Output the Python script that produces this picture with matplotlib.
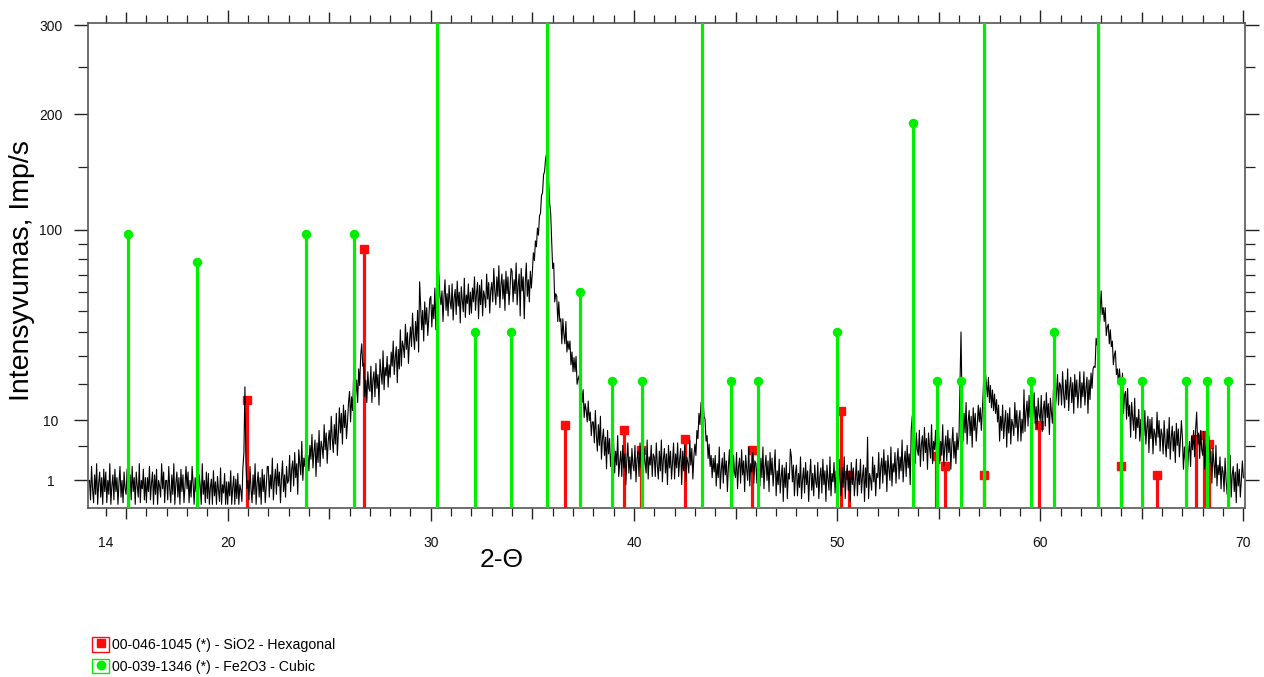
import numpy as np
import matplotlib
matplotlib.use('Agg')
import matplotlib.pyplot as plt
import matplotlib.ticker as ticker
from matplotlib.patches import Rectangle
from matplotlib.lines import Line2D

plt.rcParams['font.family'] = ['Liberation Sans', 'DejaVu Sans']

# measured scan, 0.05 deg steps starting at 13.2 deg (Imp/s)
scan_start = 13.2
scan_step = 0.05
counts = [
    1.0, 0.09, 2.25, 0.49, 0.04, 1.44, 0.25, 2.56, 0.02, 0.81, 1.69, 0.16, 1.21, 0.02, 1.96, 0.36,  # 13.2
    1.69, 0.04, 1.0, 0.25, 2.56, 0.02, 0.64, 1.44, 0.09, 1.96, 0.36, 1.21, 0.02, 0.81, 2.25, 0.16, 1.0, 0.04, 1.69, 0.49,  # 14
    0.25, 1.96, 0.02, 0.81, 1.44, 0.09, 2.25, 0.36, 1.21, 0.02, 1.69, 0.64, 0.16, 2.56, 0.04, 1.0, 0.49, 1.96, 0.09, 1.21,  # 15
    0.04, 1.21, 0.36, 2.25, 0.09, 0.81, 1.69, 0.02, 1.44, 0.25, 1.96, 0.02, 1.0, 0.64, 0.16, 2.56, 0.49, 1.69, 0.04, 1.0,  # 16
    1.0, 0.09, 2.25, 0.49, 0.04, 1.44, 0.25, 2.56, 0.02, 0.81, 1.69, 0.16, 1.21, 0.02, 1.96, 0.36, 1.44, 0.04, 0.64, 2.25,  # 17
    0.49, 1.69, 0.04, 1.0, 0.16, 2.25, 0.81, 0.02, 1.21, 0.36, 1.96, 0.09, 1.44, 0.64, 0.02, 2.56, 0.25, 1.0, 0.04, 1.69,  # 18
    0.12, 1.56, 0.02, 0.56, 1.1, 0.02, 1.82, 0.2, 0.9, 0.02, 1.32, 0.42, 0.06, 2.1, 0.02, 0.72, 0.3, 1.56, 0.02, 0.9,  # 19
    0.02, 0.9, 0.2, 1.82, 0.02, 0.56, 1.32, 0.02, 1.1, 0.12, 1.56, 0.02, 0.72, 0.42, 0.06, 2.1, 4.0, 19.0, 2.6, 0.5,  # 20
    1.0, 0.09, 2.25, 0.49, 0.04, 1.44, 0.25, 2.56, 0.02, 0.81, 1.69, 0.16, 1.21, 0.02, 1.96, 0.36, 1.44, 0.04, 0.64, 2.25,  # 21
    2.25, 0.16, 1.44, 0.49, 3.24, 0.09, 1.0, 1.96, 0.25, 2.56, 0.64, 1.69, 0.04, 1.21, 2.89, 0.36, 1.44, 0.16, 2.25, 0.81,  # 22
    1.0, 3.61, 0.36, 1.96, 2.89, 0.64, 4.0, 1.21, 2.56, 0.25, 4.41, 2.56, 1.44, 5.76, 1.0, 3.24, 2.25, 4.84, 1.21, 3.61,  # 23
    1.8, 5.1, 3.1, 7.0, 2.1, 4.2, 6.0, 1.3, 5.5, 2.7, 7.8, 2.25, 5.8, 4.8, 3.2, 9.0, 4.4, 7.3, 2.6, 5.8,  # 24
    7.8, 4.4, 10.9, 6.25, 4.0, 9.0, 5.3, 11.6, 3.6, 7.3, 13.0, 7.3, 11.6, 5.3, 13.7, 8.4, 12.3, 6.25, 9.6, 14.4,  # 25
    17.6, 9.6, 16.0, 12.3, 22.1, 10.9, 16.8, 21.2, 14.4, 25.0, 19.4, 30.3, 34.8, 26.0, 27.0, 16.0, 21.2, 14.4, 24.0, 18.5,  # 26
    17.6, 26.0, 14.4, 21.2, 24.0, 16.0, 27.0, 18.5, 23.0, 13.7, 28.6, 23.5, 19.8, 31.9, 18.1, 25.5, 22.6, 29.7, 18.9, 26.5,  # 27
    22.1, 31.4, 26.0, 36.0, 23.0, 29.2, 33.6, 20.3, 32.5, 25.0, 41.0, 26.0, 36.0, 33.6, 29.2, 43.6, 32.5, 39.7, 27.0, 36.0,  # 28
    42.3, 33.6, 49.0, 38.4, 32.5, 44.9, 36.0, 50.4, 31.4, 66.0, 53.3, 41.0, 50.4, 36.0, 54.8, 43.6, 51.8, 38.4, 46.2, 56.3,  # 29
    57.8, 42.3, 53.3, 46.2, 62.4, 41.0, 64.0, 80.0, 70.0, 58.0, 53.3, 60.8, 44.9, 57.8, 67.2, 50.4, 59.3, 47.6, 64.0, 54.8,  # 30
    51.1, 64.8, 45.6, 57.0, 61.6, 48.3, 66.4, 52.6, 60.1, 44.2, 63.2, 55.5, 49.7, 68.1, 46.9, 58.5, 54.0, 64.8, 48.3, 60.1,  # 31
    49.0, 62.4, 54.8, 68.9, 50.4, 59.3, 65.6, 46.2, 64.0, 53.3, 67.2, 47.6, 60.8, 57.8, 51.8, 70.6, 56.3, 65.6, 49.0, 60.8,  # 32
    65.6, 54.8, 74.0, 60.8, 53.3, 68.9, 57.8, 75.7, 51.8, 64.0, 70.6, 56.3, 67.2, 50.4, 72.3, 59.3, 68.9, 53.3, 62.4, 74.0,  # 33
    72.3, 54.8, 67.2, 59.3, 77.4, 53.3, 64.0, 70.6, 47.6, 74.0, 60.8, 68.9, 46.2, 65.6, 77.4, 57.8, 67.2, 54.8, 72.3, 62.4,  # 34
    72.0, 84.0, 79.0, 92.0, 88.0, 101.0, 96.0, 110.0, 112.0, 126.0, 128.0, 143.0, 146.0, 157.0, 162.0, 149.0, 138.0, 120.0, 112.0, 92.0,  # 35
    74.0, 77.4, 54.8, 59.3, 57.8, 44.9, 54.8, 44.9, 46.2, 34.8, 46.2, 39.0, 34.8, 44.9, 31.4, 36.0, 32.5, 36.0, 26.5, 31.4,  # 36
    24.0, 29.2, 24.0, 29.7, 19.8, 21.6, 22.6, 13.7, 19.4, 14.4, 18.1, 10.6, 14.1, 12.3, 9.6, 14.8, 9.9, 11.9, 6.8, 9.6,  # 37
    9.6, 5.5, 12.3, 6.8, 4.2, 9.0, 5.1, 10.9, 3.1, 6.25, 8.1, 3.6, 6.5, 2.0, 7.8, 3.8, 6.25, 2.25, 4.2, 7.6,  # 38
    5.5, 1.6, 4.2, 2.4, 6.8, 1.3, 2.7, 4.2, 1.3, 5.1, 2.1, 3.8, 0.72, 3.1, 5.5, 1.6, 3.4, 1.1, 4.6, 2.4,  # 39
    1.8, 5.1, 0.9, 3.1, 4.2, 1.3, 5.5, 2.1, 3.8, 0.72, 4.6, 2.7, 1.6, 6.0, 1.1, 3.4, 2.4, 5.1, 1.3, 3.8,  # 40
    3.4, 1.3, 5.5, 2.4, 1.1, 4.2, 1.8, 6.0, 0.9, 3.1, 4.6, 1.6, 3.8, 0.72, 5.1, 2.1, 4.2, 1.1, 2.7, 5.5,  # 41
    1.1, 3.8, 2.1, 5.5, 1.3, 3.1, 4.6, 0.72, 4.2, 1.8, 5.1, 0.9, 3.4, 2.7, 1.6, 6.0, 2.4, 4.6, 1.1, 3.4,  # 42
    5.3, 3.6, 7.8, 6.25, 11.6, 9.0, 14.4, 12.3, 16.0, 10.9, 10.2, 5.8, 6.8, 3.2, 5.3, 2.25, 3.6, 1.2, 3.2, 1.7,  # 43
    3.6, 0.64, 2.56, 1.21, 4.84, 0.49, 1.96, 3.24, 0.81, 4.0, 1.44, 2.89, 0.36, 2.25, 4.41, 1.0, 2.56, 0.64, 3.61, 1.69,  # 44
    1.21, 4.0, 0.49, 2.25, 3.24, 0.81, 4.41, 1.44, 2.89, 0.36, 3.61, 1.96, 1.0, 4.84, 0.64, 2.56, 1.69, 4.0, 0.81, 2.89,  # 45
    2.56, 0.81, 4.41, 1.69, 0.64, 3.24, 1.21, 4.84, 0.49, 2.25, 3.61, 1.0, 2.89, 0.36, 4.0, 1.44, 3.24, 0.64, 1.96, 4.41,  # 46
    0.2, 1.8, 0.72, 3.1, 0.3, 1.3, 2.4, 0.06, 2.1, 0.56, 2.7, 0.12, 1.56, 1.1, 4.5, 3.4, 0.9, 2.4, 0.2, 1.56,  # 47
    2.4, 0.2, 1.56, 0.56, 3.4, 0.12, 1.1, 2.1, 0.3, 2.7, 0.72, 1.8, 0.06, 1.3, 3.1, 0.42, 1.56, 0.2, 2.4, 0.9,  # 48
    0.56, 2.7, 0.12, 1.3, 2.1, 0.3, 3.1, 0.72, 1.8, 0.06, 2.4, 1.1, 0.42, 3.4, 0.2, 1.56, 0.9, 2.7, 0.3, 1.8,  # 49
    1.56, 0.3, 3.1, 0.9, 0.2, 2.1, 0.56, 3.4, 0.12, 1.3, 2.4, 0.42, 1.8, 0.06, 2.7, 0.72, 2.1, 0.2, 1.1, 3.1,  # 50
    0.2, 1.8, 0.72, 3.1, 0.3, 1.3, 2.4, 0.06, 2.1, 0.56, 6.5, 0.12, 1.56, 1.1, 0.42, 3.4, 0.9, 2.4, 0.2, 1.56,  # 51
    1.21, 4.0, 0.49, 2.25, 3.24, 0.81, 4.41, 1.44, 2.89, 0.36, 3.61, 1.96, 1.0, 4.84, 0.64, 2.56, 1.69, 4.0, 0.81, 2.89,  # 52
    4.6, 1.1, 3.4, 1.8, 6.0, 0.9, 2.7, 4.2, 1.3, 5.1, 2.1, 3.8, 0.72, 8.0, 11.0, 3.2, 5.8, 2.6, 7.3, 4.4,  # 53
    3.61, 7.84, 2.25, 5.29, 6.76, 2.89, 8.41, 4.0, 6.25, 1.96, 7.29, 4.84, 3.24, 9.0, 2.56, 5.76, 4.41, 7.84, 2.89, 6.25,  # 54
    7.3, 2.56, 5.76, 3.61, 9.0, 2.25, 4.84, 6.76, 2.89, 7.84, 4.0, 6.25, 1.96, 5.29, 8.41, 3.24, 5.76, 2.56, 7.29, 4.41,  # 55
    6.5, 20.0, 40.0, 14.0, 5.8, 11.6, 7.3, 14.4, 5.3, 9.6, 12.3, 6.8, 10.9, 4.8, 13.0, 7.8, 11.6, 5.8, 9.0, 13.7,  # 56
    9.6, 13.0, 7.8, 12.3, 18.5, 30.0, 24.0, 20.0, 16.0, 22.0, 14.4, 19.4, 13.0, 18.0, 12.3, 16.8, 11.6, 15.2, 9.6, 13.7,  # 57
    5.8, 10.9, 7.8, 13.7, 6.25, 9.6, 12.3, 4.8, 11.6, 7.3, 13.0, 5.3, 10.2, 9.0, 6.8, 14.4, 8.4, 12.3, 5.8, 10.2,  # 58
    12.3, 5.8, 10.2, 7.3, 18.1, 7.6, 11.9, 14.8, 8.7, 16.4, 10.6, 14.1, 7.0, 12.6, 17.2, 9.3, 13.3, 8.1, 15.6, 11.2,  # 59
    9.9, 16.4, 7.6, 12.6, 14.8, 8.7, 17.2, 10.6, 14.1, 7.0, 15.6, 11.9, 9.3, 18.1, 8.1, 13.3, 16.8, 23.0, 13.7, 20.3,  # 60
    19.4, 13.7, 24.0, 16.8, 13.0, 21.2, 15.2, 25.0, 12.3, 18.5, 22.1, 14.4, 20.3, 11.6, 23.0, 16.0, 21.2, 13.0, 17.6, 24.0,  # 61
    13.0, 20.3, 16.0, 24.0, 13.7, 18.5, 22.1, 11.6, 21.2, 15.2, 23.5, 18.5, 25.0, 26.0, 25.5, 37.2, 34.2, 42.3, 39.0, 50.4,  # 62
    60.8, 48.3, 51.8, 44.9, 51.8, 38.4, 42.3, 43.6, 34.8, 41.0, 33.6, 36.0, 26.5, 30.3, 31.9, 23.0, 25.0, 19.8, 25.0, 20.3,  # 63
    16.8, 23.5, 11.6, 16.4, 17.6, 10.2, 18.5, 10.9, 13.7, 6.5, 14.4, 10.6, 7.8, 15.6, 6.25, 10.6, 8.4, 12.6, 5.8, 10.2,  # 64
    4.8, 9.6, 6.8, 12.3, 5.3, 8.4, 10.9, 4.0, 10.2, 6.25, 10.6, 3.8, 8.1, 7.0, 5.1, 11.9, 6.5, 9.9, 4.2, 8.1,  # 65
    7.0, 3.8, 9.9, 5.5, 3.4, 8.1, 4.6, 10.6, 3.1, 6.5, 8.7, 4.2, 7.6, 2.7, 9.3, 5.1, 8.1, 3.4, 6.0, 9.9,  # 66
    6.25, 1.96, 4.84, 2.89, 7.84, 1.69, 4.0, 5.76, 2.25, 6.76, 4.4, 7.8, 3.4, 8.1, 11.9, 5.3, 7.3, 3.2, 7.8, 4.4,  # 67
    3.6, 7.6, 1.96, 4.6, 5.76, 2.1, 6.76, 2.7, 4.2, 0.81, 4.6, 2.56, 1.21, 5.1, 0.64, 2.4, 1.44, 3.4, 0.49, 2.25,  # 68
    1.69, 0.36, 3.24, 1.0, 0.25, 2.25, 0.64, 3.61, 0.16, 1.44, 2.25, 0.36, 1.69, 0.04, 2.56, 0.64, 1.96, 0.16, 1.0, 2.89,  # 69
    1.2,  # 70
]

# reference patterns (stick positions in deg 2-theta, heights in Imp/s)
sio2_label = '00-046-1045 (*) - SiO2 - Hexagonal'
sio2_pos = [20.97, 26.71, 36.63, 39.50, 40.33, 42.51, 45.79, 50.20, 50.61,
            54.88, 55.32, 57.22, 59.95, 64.00, 65.77, 67.67, 68.06, 68.33]
sio2_int = [15.0, 86.5, 9.0, 7.8, 4.4, 6.2, 4.4, 12.3, 1.4,
            3.5, 2.3, 1.4, 9.0, 2.3, 1.4, 6.2, 7.0, 5.4]

fe2o3_label = '00-039-1346 (*) - Fe2O3 - Cubic'
fe2o3_pos = [15.09, 18.49, 23.87, 26.20, 30.31, 32.17, 33.97, 35.70, 37.34,
             38.90, 40.42, 43.33, 44.76, 46.09, 50.02, 53.74, 54.93, 56.09,
             57.25, 59.56, 60.67, 62.86, 63.96, 65.03, 67.16, 68.19, 69.26]
fe2o3_int = [97, 78, 97, 97, 1000, 40, 40, 1000, 60,
             21, 21, 1000, 21, 21, 40, 191, 21, 21,
             1000, 21, 40, 1000, 21, 21, 21, 21, 21]

x_major = [14, 15, 20, 25, 30, 35, 40, 45, 50, 55, 60, 65, 70]
y_major = [1, 10, 100, 200, 300]
y_minor = [5, 20, 30, 40, 50, 60, 70, 80, 90, 150, 250]

red = '#ff0a0a'
green = '#00ee00'

two_theta = scan_start + scan_step * np.arange(len(counts))

fig = plt.figure(figsize=(12.64, 6.77), dpi=100)
W, H = 1264, 677
ax = fig.add_axes([88.3 / W, 1 - 508.3 / H, (1245 - 88.3) / W, (508.3 - 23) / H])

# square-root intensity axis
def fwd(v):
    return np.sqrt(np.clip(v, 0, None))

def inv(s):
    return np.square(s)

ax.set_yscale('function', functions=(fwd, inv))

ax.vlines(sio2_pos, 0, sio2_int, color=red, lw=2.3, zorder=2)
ax.plot(sio2_pos, sio2_int, ls='', marker='s', ms=5.6, color=red, zorder=2)
ax.plot(two_theta, counts, color='black', lw=0.8, zorder=3)
ax.vlines(fe2o3_pos, 0, fe2o3_int, color=green, lw=2.3, zorder=4)
ax.plot(fe2o3_pos, fe2o3_int, ls='', marker='o', ms=5.8, color=green, zorder=4)

ax.set_xlim(13.14, 70.08)
ax.set_ylim(0, 303)

for sp in ax.spines.values():
    sp.set_color('#555555')
    sp.set_linewidth(1.2)

ax.xaxis.set_major_locator(ticker.FixedLocator(x_major))
ax.xaxis.set_major_formatter(ticker.FuncFormatter(
    lambda v, p: '' if (v % 10 == 5) else '%d' % v))
ax.xaxis.set_minor_locator(ticker.MultipleLocator(1))
ax.yaxis.set_major_locator(ticker.FixedLocator(y_major))
ax.yaxis.set_major_formatter(ticker.FuncFormatter(lambda v, p: '%d' % v))
ax.yaxis.set_minor_locator(ticker.FixedLocator(y_minor))

ax.tick_params(which='both', direction='out', top=True, right=True,
               color='#222222', labelsize=10, labelcolor='#111111')
ax.tick_params(axis='x', which='major', length=9.5, width=1.0, pad=10.2)
ax.tick_params(axis='x', which='minor', length=5.5, width=0.9)
ax.tick_params(axis='y', which='major', length=10, width=1.0, pad=17)
ax.tick_params(axis='y', which='minor', length=7, width=0.9)
plt.setp(ax.get_yticklabels(), ha='center')

# 14 gets a short tick, the fives a medium one
for t, v in zip(ax.xaxis.get_major_ticks(), x_major):
    L = 9.5 if v % 10 == 0 else (8.0 if v % 5 == 0 else 5.5)
    t.tick1line.set_markersize(L)
    t.tick2line.set_markersize(L)

fig.text(22 / W, 1 - 271 / H, 'Intensyvumas, Imp/s', rotation=90,
         ha='center', va='center', fontsize=20.5)
fig.text(502 / W, 1 - 560 / H, '2-\u0398', ha='center', va='center', fontsize=19)

h_sio2 = (Rectangle((0, 0), 1, 1, facecolor='none', edgecolor=red, lw=1.0),
          Line2D([], [], ls='', marker='s', ms=6, color=red))
h_fe = (Rectangle((0, 0), 1, 1, facecolor='none', edgecolor=green, lw=1.0),
        Line2D([], [], ls='', marker='o', ms=6, color=green))
fig.legend([h_sio2, h_fe], [sio2_label, fe2o3_label], loc='upper left',
           bbox_to_anchor=(92 / W, 1 - 637 / H), frameon=False, fontsize=10.2,
           handlelength=1.2, handleheight=1.2, handletextpad=0.2,
           labelspacing=0.47, borderpad=0, borderaxespad=0)

fig.savefig('out.png', dpi=100)
